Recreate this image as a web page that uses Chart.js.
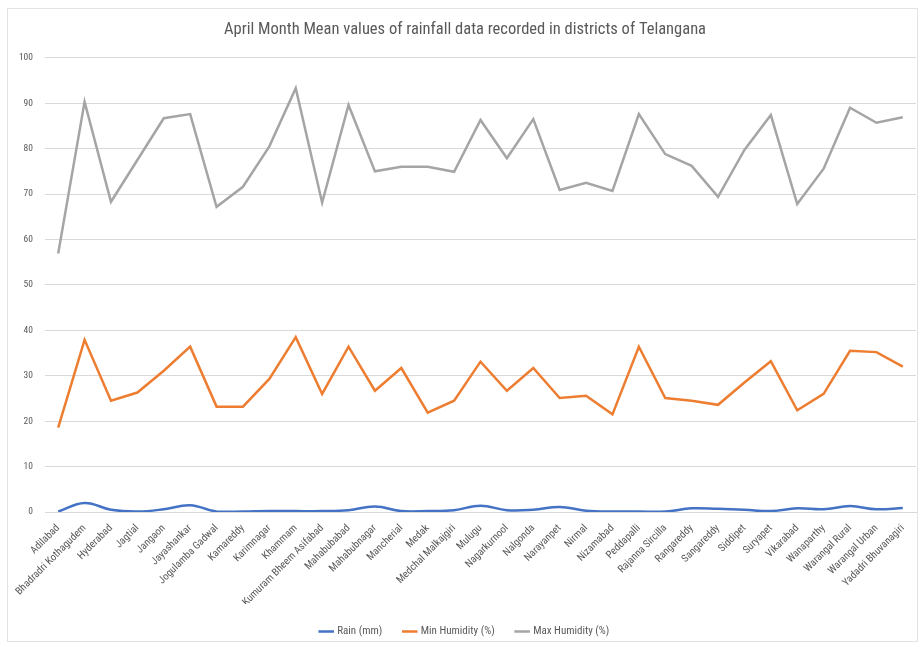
<!DOCTYPE html>
<html>
<head>
<meta charset="utf-8">
<script src="https://cdn.jsdelivr.net/npm/chart.js@4.4.0/dist/chart.umd.min.js"></script>
<style>
  html, body { margin: 0; padding: 0; background: #ffffff; }
  #wrap { width: 922px; height: 647px; position: relative; }
</style>
</head>
<body>
<div id="wrap"><canvas id="c" width="922" height="647"></canvas></div>
<script>
const chartTitle = "April Month Mean values of rainfall data recorded in districts of Telangana";

const districts = [
  "Adilabad", "Bhadradri Kothagudem", "Hyderabad", "Jagtial", "Jangaon",
  "Jayashankar", "Jogulamba Gadwal", "Kamareddy", "Karimnagar", "Khammam",
  "Kumuram Bheem Asifabad", "Mahabubabad", "Mahabubnagar", "Mancherial", "Medak",
  "Medchal Malkajgiri", "Mulugu", "Nagarkurnool", "Nalgonda", "Narayanpet",
  "Nirmal", "Nizamabad", "Peddapalli", "Rajanna Sircilla", "Rangareddy",
  "Sangareddy", "Siddipet", "Suryapet", "Vikarabad", "Wanaparthy",
  "Warangal Rural", "Warangal Urban", "Yadadri Bhuvanagiri"
];

const rainMm = [
  0.1, 2.0, 0.5, 0.1, 0.6, 1.5, 0.1, 0.1, 0.2, 0.2,
  0.2, 0.4, 1.2, 0.2, 0.2, 0.4, 1.4, 0.4, 0.5, 1.1,
  0.3, 0.1, 0.1, 0.1, 0.8, 0.7, 0.5, 0.2, 0.8, 0.6,
  1.3, 0.6, 0.9
];

const minHumidity = [
  18.6, 37.9, 24.5, 26.3, 31.1, 36.4, 23.2, 23.2, 29.3, 38.5,
  26.0, 36.4, 26.7, 31.7, 21.9, 24.5, 33.1, 26.7, 31.7, 25.1,
  25.6, 21.5, 36.4, 25.1, 24.5, 23.6, 28.5, 33.2, 22.4, 26.0,
  35.5, 35.2, 32.0
];

const maxHumidity = [
  56.9, 90.3, 68.3, 77.5, 86.7, 87.6, 67.2, 71.6, 80.5, 93.3,
  68.1, 89.6, 75.0, 76.0, 76.0, 74.9, 86.3, 77.9, 86.5, 70.9,
  72.5, 70.7, 87.6, 78.8, 76.2, 69.4, 79.7, 87.4, 67.8, 75.6,
  89.0, 85.7, 86.9
];

const yTicks = { min: 0, max: 100, step: 10 };

const FONT = "'Liberation Sans Narrow', 'Roboto Condensed', 'Liberation Sans', Arial, sans-serif";
const TXT = "#595959";

const borderPlugin = {
  id: 'outerBorder',
  beforeDraw(chart) {
    const ctx = chart.ctx;
    ctx.save();
    ctx.fillStyle = '#ffffff';
    ctx.fillRect(0, 0, chart.width, chart.height);
    ctx.strokeStyle = '#e3e3e3';
    ctx.lineWidth = 1;
    ctx.strokeRect(7.5, 8.5, chart.width - 12, chart.height - 14);
    ctx.restore();
  }
};

new Chart(document.getElementById('c'), {
  type: 'line',
  data: {
    labels: districts,
    datasets: [
      {
        label: 'Rain (mm)',
        data: rainMm,
        borderColor: '#4472C4',
        backgroundColor: '#4472C4',
        borderWidth: 2.5,
        pointRadius: 0,
        tension: 0.4,
        fill: false
      },
      {
        label: 'Min Humidity (%)',
        data: minHumidity,
        borderColor: '#ED7D31',
        backgroundColor: '#ED7D31',
        borderWidth: 2.5,
        pointRadius: 0,
        tension: 0,
        fill: false
      },
      {
        label: 'Max Humidity (%)',
        data: maxHumidity,
        borderColor: '#A5A5A5',
        backgroundColor: '#A5A5A5',
        borderWidth: 2.5,
        pointRadius: 0,
        tension: 0,
        fill: false
      }
    ]
  },
  options: {
    responsive: false,
    animation: false,
    devicePixelRatio: 1,
    layout: { padding: { left: 14, right: 6, top: 10, bottom: 0 } },
    plugins: {
      title: {
        display: true,
        text: chartTitle,
        color: TXT,
        font: { family: FONT, size: 16.5, weight: 'normal' },
        padding: { top: 10, bottom: 18 }
      },
      legend: {
        position: 'bottom',
        labels: {
          usePointStyle: true,
          pointStyle: 'line',
          boxWidth: 34,
          color: TXT,
          font: { family: FONT, size: 11 },
          padding: 22
        }
      },
      tooltip: { enabled: false }
    },
    scales: {
      x: {
        offset: true,
        grid: { display: false },
        border: { display: true, color: '#d9d9d9' },
        ticks: {
          color: TXT,
          font: { family: FONT, size: 10.5 },
          maxRotation: 45,
          minRotation: 45,
          autoSkip: false,
          padding: 2
        },
        afterFit(scale) { scale.height = 92; }
      },
      y: {
        min: yTicks.min,
        max: yTicks.max,
        border: { display: false },
        grid: { color: '#d9d9d9', drawTicks: false },
        ticks: {
          stepSize: yTicks.step,
          color: TXT,
          font: { family: FONT, size: 9.5 },
          padding: 12
        },
        afterFit(scale) { scale.width = 31; }
      }
    }
  },
  plugins: [borderPlugin]
});
</script>
</body>
</html>
